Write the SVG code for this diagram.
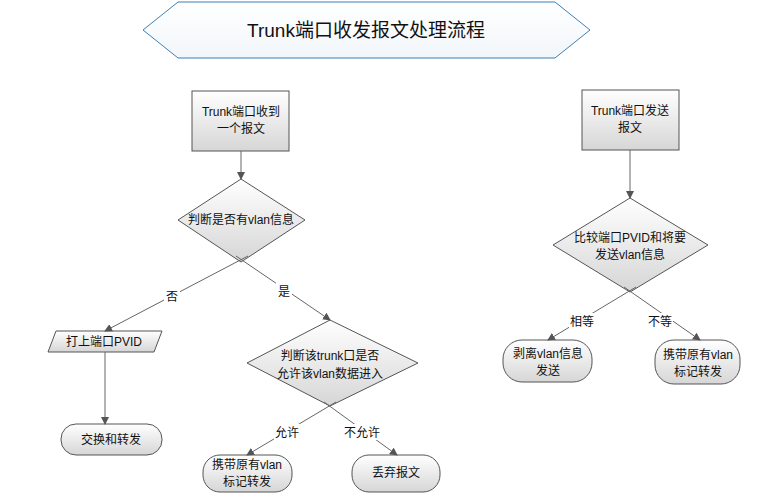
<svg xmlns="http://www.w3.org/2000/svg" width="766" height="498" viewBox="0 0 766 498">
<defs>
<linearGradient id="g" x1="0" y1="0" x2="0" y2="1"><stop offset="0" stop-color="#ffffff"/><stop offset="1" stop-color="#d6d6d6"/></linearGradient>
<linearGradient id="gh" x1="0" y1="0" x2="0" y2="1"><stop offset="0" stop-color="#ffffff"/><stop offset="1" stop-color="#f2f6fa"/></linearGradient>
<marker id="a" markerWidth="8" markerHeight="8" refX="7" refY="4" orient="auto" markerUnits="userSpaceOnUse"><path d="M0,0 L8,4 L0,8 z" fill="#555"/></marker>
<style>
.s{fill:url(#g);stroke:#555;stroke-width:1}
.t{font-family:"Liberation Sans","Noto Sans CJK SC",sans-serif;font-size:12px;fill:#111;text-anchor:middle}
.c{stroke:#666;stroke-width:1;fill:none;marker-end:url(#a)}
</style>
</defs>
<rect width="766" height="498" fill="#fff"/>
<g id="title"><polygon points="143,30 178,2 555,2 590,30 555,58 178,58" fill="url(#gh)" stroke="#3d7fb5" stroke-width="1"/>
<text x="366" y="37" class="t" style="font-size:19px">Trunk端口收发报文处理流程</text></g>
<g id="recv"><rect x="192" y="91" width="97" height="60" class="s"/><text x="241" y="116" class="t">Trunk端口收到</text><text x="241" y="133" class="t">一个报文</text></g>
<g id="d1"><polygon points="241,179 305,220 241,262 178,220" class="s"/><text x="241" y="224" class="t">判断是否有vlan信息</text></g>
<g id="pvid"><polygon points="56,331 162,331 154,352 48,352" class="s"/><text x="104" y="346" class="t">打上端口PVID</text></g>
<g id="swt"><rect x="61" y="424" width="101" height="31" rx="15" class="s"/><text x="111" y="444" class="t">交换和转发</text></g>
<g id="d3"><polygon points="330,320 418,363 330,406 247,363" class="s"/><text x="330" y="360" class="t">判断该trunk口是否</text><text x="330" y="378" class="t">允许该vlan数据进入</text></g>
<g id="keep1"><rect x="203" y="455" width="89" height="37" rx="17" class="s"/><text x="247" y="469" class="t">携带原有vlan</text><text x="247" y="486" class="t">标记转发</text></g>
<g id="drop"><rect x="352" y="455" width="88" height="37" rx="17" class="s"/><text x="396" y="477" class="t">丢弃报文</text></g>
<g id="send"><rect x="582" y="90" width="97" height="60" class="s"/><text x="630" y="115" class="t">Trunk端口发送</text><text x="630" y="132" class="t">报文</text></g>
<g id="d2"><polygon points="630,198 708,245 630,292 553,245" class="s"/><text x="630" y="242" class="t">比较端口PVID和将要</text><text x="630" y="259" class="t">发送vlan信息</text></g>
<g id="strip"><rect x="503" y="340" width="89" height="42" rx="19" class="s"/><text x="548" y="358" class="t">剥离vlan信息</text><text x="548" y="375" class="t">发送</text></g>
<g id="keep2"><rect x="655" y="340" width="85" height="44" rx="19" class="s"/><text x="698" y="359" class="t">携带原有vlan</text><text x="698" y="376" class="t">标记转发</text></g>
<g id="connectors">
<line x1="241" y1="151" x2="241" y2="179" class="c"/>
<line x1="248" y1="256" x2="105" y2="331" class="c"/>
<line x1="236" y1="256" x2="330" y2="320" class="c"/>
<line x1="105" y1="352" x2="105" y2="424" class="c"/>
<line x1="336" y1="402" x2="247" y2="455" class="c"/>
<line x1="324" y1="402" x2="397" y2="455" class="c"/>
<line x1="630" y1="150" x2="630" y2="198" class="c"/>
<line x1="636" y1="287" x2="548" y2="340" class="c"/>
<line x1="624" y1="287" x2="700" y2="340" class="c"/>
</g>
<g id="labels">
<rect x="164" y="288" width="16" height="16" fill="#fff"/><text x="172" y="301" class="t">否</text>
<rect x="276" y="283" width="16" height="16" fill="#fff"/><text x="284" y="296" class="t">是</text>
<rect x="274" y="424" width="26" height="16" fill="#fff"/><text x="287" y="437" class="t">允许</text>
<rect x="343" y="424" width="38" height="16" fill="#fff"/><text x="362" y="437" class="t">不允许</text>
<rect x="569" y="313" width="26" height="16" fill="#fff"/><text x="582" y="326" class="t">相等</text>
<rect x="647" y="313" width="26" height="16" fill="#fff"/><text x="660" y="326" class="t">不等</text>
</g>
</svg>
